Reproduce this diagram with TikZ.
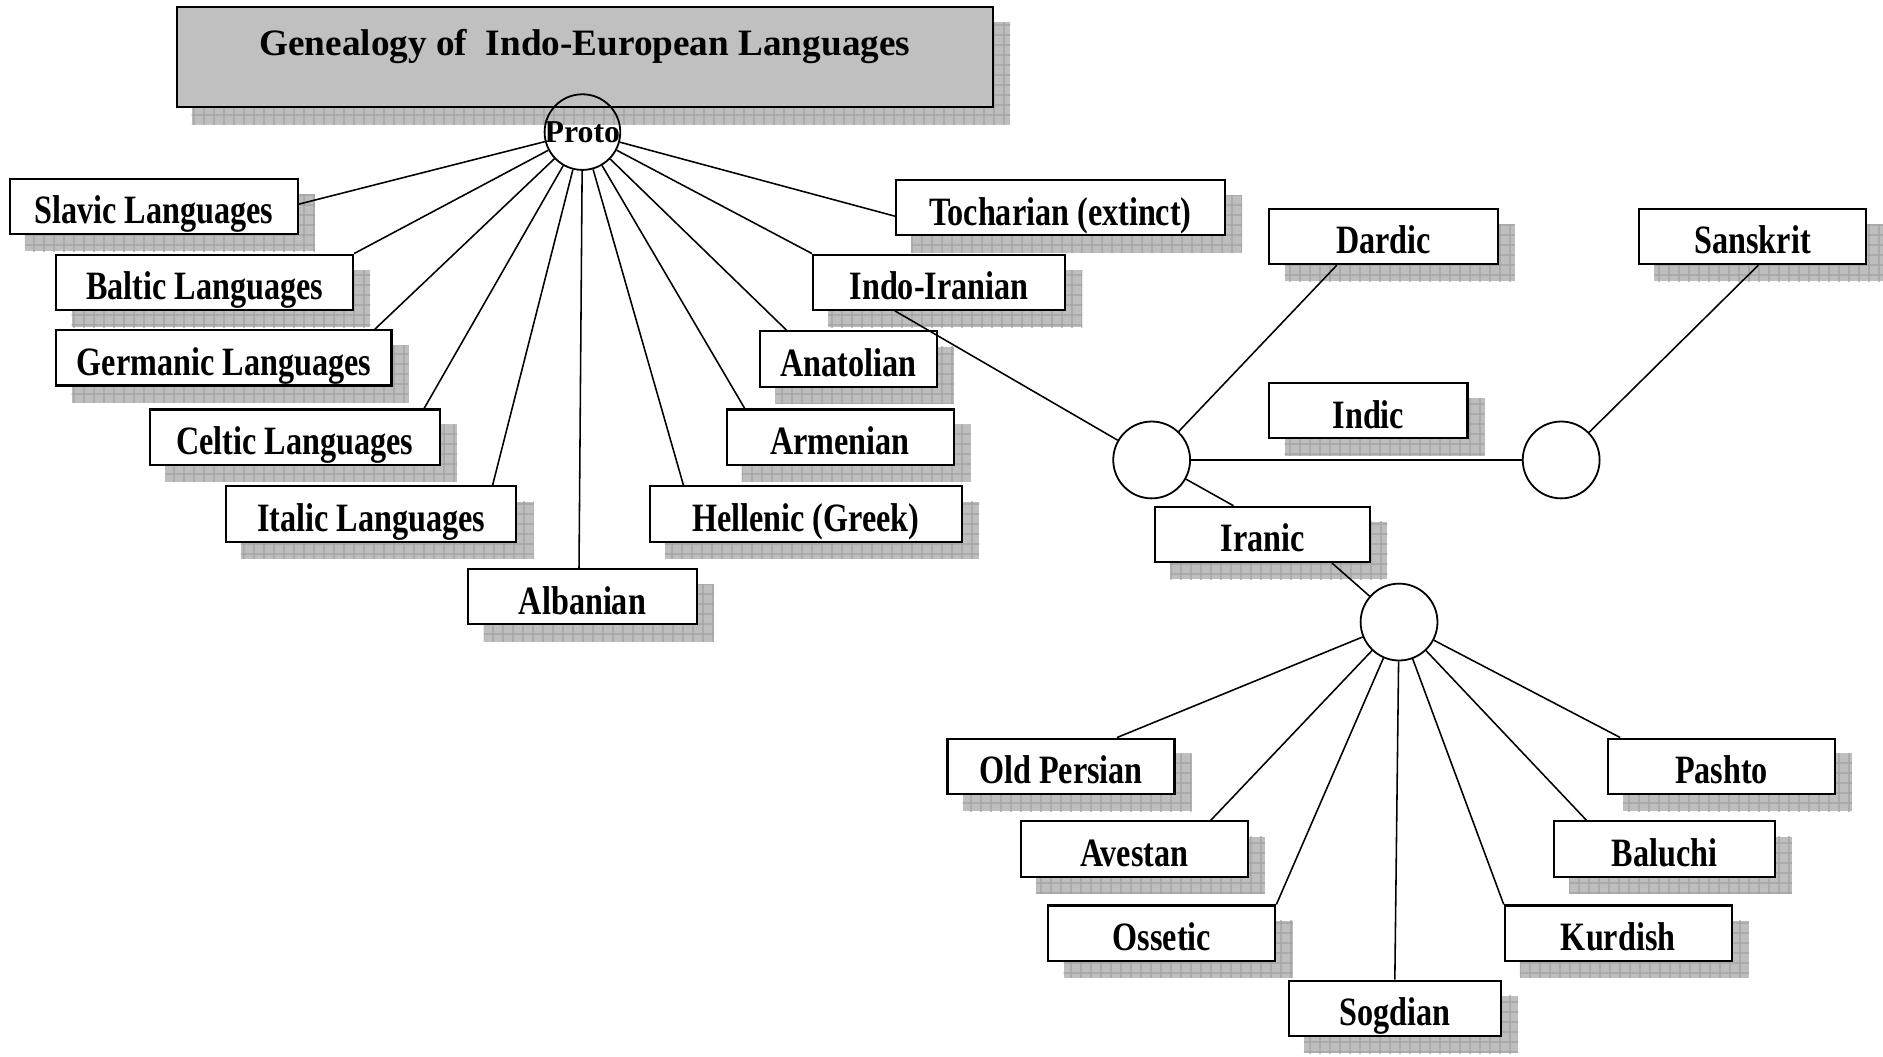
\documentclass[tikz,border=0pt]{standalone}
\usepackage{fontspec}
\setmainfont{Liberation Serif}
\newfontfamily\lblfont[FakeStretch=0.8]{Liberation Serif}
\usetikzlibrary{patterns}

\pgfdeclarelayer{shadow}
\pgfsetlayers{shadow,main}

% fine grid used inside the drop shadows
\pgfdeclarepatternformonly{shadowgrid}{\pgfpointorigin}{\pgfqpoint{8.3pt}{8.3pt}}{\pgfqpoint{8.3pt}{8.3pt}}{%
  \pgfsetlinewidth{0.9pt}%
  \pgfpathmoveto{\pgfqpoint{0pt}{4.15pt}}\pgfpathlineto{\pgfqpoint{8.3pt}{4.15pt}}%
  \pgfpathmoveto{\pgfqpoint{4.15pt}{0pt}}\pgfpathlineto{\pgfqpoint{4.15pt}{8.3pt}}%
  \pgfusepath{stroke}}

\definecolor{titlegray}{HTML}{C0C0C0}
\definecolor{shadowfill}{HTML}{BEBEBE}
\definecolor{shadowline}{HTML}{A2A2A2}

\tikzset{
  lang/.style={draw, line width=1.7pt, fill=white, rectangle, inner sep=0pt,
    minimum height=46pt, font=\lblfont\bfseries\fontsize{33.5}{36}\selectfont,
    text height=29pt, text depth=0pt},
  hub/.style={draw, circle, line width=1.5pt, fill=white, minimum size=64pt, inner sep=0pt},
  link/.style={line width=1.3pt},
}

\begin{document}
\begin{tikzpicture}[x=1pt, y=-1pt]
\useasboundingbox (0,0) rectangle (1568,880);

% title
\node[draw, line width=1.7pt, fill=titlegray, minimum width=680pt, minimum height=83pt, inner sep=0pt]
  (title) at (487,47.5) {};
\node[font=\bfseries\fontsize{31}{33}\selectfont, anchor=base] (titletext) at (487,46)
  {Genealogy of\ \ Indo-European Languages};

% root of the tree (outline only, the title shadow shows through)
\node[draw, circle, line width=1.5pt, minimum size=63pt, inner sep=0pt] (proto) at (485,110) {};
\node[font=\bfseries\fontsize{26.5}{29}\selectfont, anchor=base, inner sep=0pt] (prototext) at (485,119) {Proto};

% first-level branches
\node[lang, minimum width=240pt] (slv) at (128,172) {Slavic Languages};
\node[lang, minimum width=247pt] (blt) at (170.5,235) {Baltic Languages};
\node[lang, minimum width=279pt] (ger) at (186.5,298) {Germanic Languages};
\node[lang, minimum width=241pt] (cel) at (245.5,364) {Celtic Languages};
\node[lang, minimum width=242pt] (ita) at (309,428) {Italic Languages};
\node[lang, minimum width=190pt] (alb) at (485,497) {Albanian};
\node[lang, minimum width=260pt] (hel) at (671,428) {Hellenic (Greek)};
\node[lang, minimum width=189pt] (arm) at (699.5,364) {Armenian};
\node[lang, minimum width=147pt] (ana) at (706.5,299) {Anatolian};
\node[lang, minimum width=210pt] (ii)  at (782,235) {Indo-Iranian};
\node[lang, minimum width=274pt] (toc) at (883,173) {Tocharian (extinct)};

% Indo-Iranian subtree
\node[hub] (cii) at (959,383) {};
\node[hub] (cin) at (1300,383) {};
\node[hub] (cir) at (1165,518) {};
\node[lang, minimum width=190pt] (dar) at (1152,197) {Dardic};
\node[lang, minimum width=189pt] (san) at (1459.5,197) {Sanskrit};
\node[lang, minimum width=165pt] (ind) at (1139.5,342) {Indic};
\node[lang, minimum width=179pt] (ira) at (1051.5,445) {Iranic};

% Iranian languages
\node[lang, minimum width=189pt] (ope) at (883.5,638) {Old Persian};
\node[lang, minimum width=189pt] (ave) at (944.5,707) {Avestan};
\node[lang, minimum width=189pt] (oss) at (967.5,777) {Ossetic};
\node[lang, minimum width=177pt] (sog) at (1161.5,839.5) {Sogdian};
\node[lang, minimum width=189pt] (kur) at (1347.5,777) {Kurdish};
\node[lang, minimum width=184pt] (bal) at (1386,707) {Baluchi};
\node[lang, minimum width=189pt] (pas) at (1433.5,638) {Pashto};

% drop shadows behind every box
\begin{pgfonlayer}{shadow}
\foreach \n in {title,slv,blt,ger,cel,ita,alb,hel,arm,ana,ii,toc,dar,san,ind,ira,ope,ave,oss,sog,kur,bal,pas}{
  \fill[shadowfill] ([shift={(13.5,13.5)}]\n.north west) rectangle ([shift={(13.5,13.5)}]\n.south east);
  \fill[pattern=shadowgrid, pattern color=shadowline]
    ([shift={(13.5,13.5)}]\n.north west) rectangle ([shift={(13.5,13.5)}]\n.south east);
}
\end{pgfonlayer}

% branches from the root
\draw[link] (proto) -- ([shift={(0,-2)}]slv.east);
\draw[link] (proto) -- (blt.north east);
\draw[link] (proto) -- ([shift={(266,0)}]ger.north west);
\draw[link] (proto) -- ([shift={(229,0)}]cel.north west);
\draw[link] (proto) -- ([shift={(223,0)}]ita.north west);
\draw[link] (proto) -- ([shift={(93,0)}]alb.north west);
\draw[link] (proto) -- ([shift={(29,0)}]hel.north west);
\draw[link] (proto) -- ([shift={(16,0)}]arm.north west);
\draw[link] (proto) -- ([shift={(23,0)}]ana.north west);
\draw[link] (proto) -- (ii.north west);
\draw[link] (proto) -- ([shift={(0,7)}]toc.west);

% Indo-Iranian
\draw[link] ([shift={(69,0)}]ii.south west) -- (cii);
\draw[link] (cii) -- ([shift={(57,0)}]dar.south west);
\draw[link] (cii) -- (cin);
\draw[link] (cii) -- ([shift={(66,0)}]ira.north west);
\draw[link] (cin) -- ([shift={(100,0)}]san.south west);
\draw[link] ([shift={(148,0)}]ira.south west) -- (cir);

% Iranian
\draw[link] (cir) -- ([shift={(142,0)}]ope.north west);
\draw[link] (cir) -- ([shift={(159,0)}]ave.north west);
\draw[link] (cir) -- (oss.north east);
\draw[link] (cir) -- (sog.north);
\draw[link] (cir) -- (kur.north west);
\draw[link] (cir) -- ([shift={(28,0)}]bal.north west);
\draw[link] (cir) -- ([shift={(11,0)}]pas.north west);
\end{tikzpicture}
\end{document}
